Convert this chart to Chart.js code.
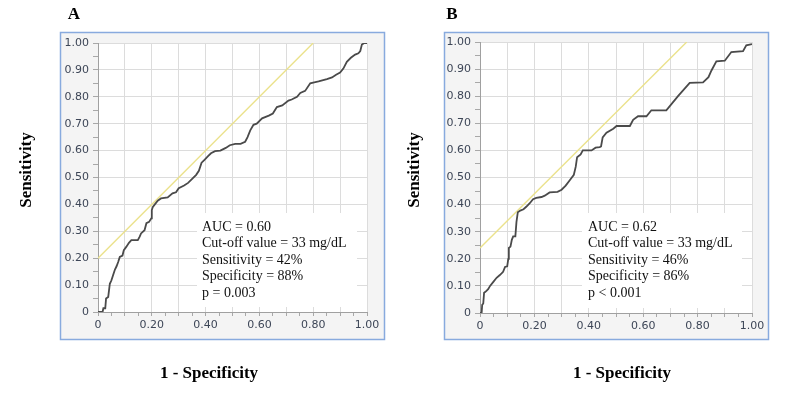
<!DOCTYPE html>
<html>
<head>
<meta charset="utf-8">
<script src="https://cdn.jsdelivr.net/npm/chart.js@4/dist/chart.umd.min.js"></script>
<style>
  html, body { margin: 0; padding: 0; background: #ffffff; }
  #wrap { position: relative; width: 800px; height: 403px; overflow: hidden; }
  .panel { position: absolute; top: 0; width: 400px; height: 403px; }
</style>
</head>
<body>
<div id="wrap">
  <div class="panel" style="left:0px"><canvas id="cA" width="400" height="403"></canvas></div>
  <div class="panel" style="left:400px"><canvas id="cB" width="400" height="403"></canvas></div>
</div>
<script>
// ---------------- DATA ----------------
const fprA = [0, 0.017, 0.02, 0.027, 0.03, 0.038, 0.044, 0.05, 0.056, 0.063, 0.069, 0.075, 0.081, 0.091, 0.096, 0.105, 0.115, 0.124, 0.148, 0.155, 0.16, 0.173, 0.18, 0.19, 0.198, 0.2, 0.204, 0.212, 0.222, 0.234, 0.259, 0.277, 0.29, 0.30, 0.32, 0.335, 0.35, 0.365, 0.375, 0.385, 0.395, 0.41, 0.42, 0.435, 0.455, 0.475, 0.49, 0.51, 0.53, 0.547, 0.556, 0.566, 0.578, 0.59, 0.61, 0.635, 0.65, 0.665, 0.685, 0.708, 0.72, 0.74, 0.752, 0.77, 0.789, 0.80, 0.82, 0.851, 0.87, 0.885, 0.90, 0.912, 0.925, 0.94, 0.956, 0.968, 0.975, 0.981, 0.99, 1.0];
const tprA = [0, 0, 0.014, 0.014, 0.05, 0.056, 0.105, 0.118, 0.137, 0.158, 0.17, 0.186, 0.205, 0.21, 0.23, 0.242, 0.257, 0.267, 0.267, 0.28, 0.292, 0.304, 0.33, 0.335, 0.348, 0.379, 0.391, 0.401, 0.414, 0.422, 0.426, 0.441, 0.445, 0.46, 0.47, 0.48, 0.495, 0.51, 0.525, 0.555, 0.565, 0.58, 0.59, 0.598, 0.60, 0.61, 0.62, 0.625, 0.625, 0.633, 0.65, 0.675, 0.696, 0.70, 0.72, 0.73, 0.738, 0.762, 0.768, 0.786, 0.79, 0.80, 0.814, 0.822, 0.85, 0.853, 0.857, 0.866, 0.872, 0.882, 0.89, 0.905, 0.93, 0.945, 0.957, 0.962, 0.97, 0.994, 1.0, 1.0];

const fprB = [0, 0.006, 0.008, 0.012, 0.015, 0.02, 0.03, 0.037, 0.049, 0.061, 0.073, 0.085, 0.092, 0.1, 0.104, 0.106, 0.112, 0.117, 0.122, 0.13, 0.134, 0.139, 0.148, 0.16, 0.17, 0.183, 0.195, 0.207, 0.226, 0.238, 0.256, 0.285, 0.30, 0.315, 0.33, 0.345, 0.352, 0.357, 0.37, 0.378, 0.41, 0.425, 0.44, 0.445, 0.451, 0.465, 0.49, 0.502, 0.551, 0.563, 0.581, 0.612, 0.63, 0.685, 0.728, 0.771, 0.82, 0.84, 0.851, 0.869, 0.9, 0.924, 0.967, 0.979, 1.0];
const tprB = [0, 0, 0.03, 0.035, 0.075, 0.078, 0.088, 0.10, 0.115, 0.13, 0.14, 0.152, 0.17, 0.172, 0.20, 0.24, 0.245, 0.27, 0.283, 0.283, 0.335, 0.372, 0.378, 0.383, 0.392, 0.405, 0.42, 0.425, 0.428, 0.433, 0.445, 0.447, 0.455, 0.47, 0.49, 0.51, 0.54, 0.575, 0.585, 0.60, 0.60, 0.61, 0.612, 0.615, 0.648, 0.665, 0.68, 0.69, 0.69, 0.713, 0.726, 0.726, 0.748, 0.748, 0.80, 0.849, 0.851, 0.87, 0.895, 0.929, 0.931, 0.963, 0.966, 0.988, 0.992];

const refAx = [0, 0.80];
const refAy = [0.20, 1.00];
const refBx = [0, 0.76];
const refBy = [0.24, 1.00];

const yTickLabels = ['0', '0.10', '0.20', '0.30', '0.40', '0.50', '0.60', '0.70', '0.80', '0.90', '1.00'];
const xTickLabels = ['0', '0.20', '0.40', '0.60', '0.80', '1.00'];

const panelLabels = ['A', 'B'];
const yTitle = 'Sensitivity';
const xTitle = '1 - Specificity';
const notesA = ['AUC = 0.60', 'Cut-off value = 33 mg/dL', 'Sensitivity = 42%', 'Specificity = 88%', 'p = 0.003'];
const notesB = ['AUC = 0.62', 'Cut-off value = 33 mg/dL', 'Sensitivity = 46%', 'Specificity = 86%', 'p < 0.001'];

// ---------------- HELPERS ----------------
function pts(xs, ys) { return xs.map((x, i) => ({ x: x, y: ys[i] })); }

const decorPlugin = {
  id: 'decor',
  beforeDraw(chart, args, o) {
    const ctx = chart.ctx, a = chart.chartArea;
    ctx.save();
    const fx = a.left - o.frame[0], fy = a.top - o.frame[1];
    const fw = (a.right + o.frame[2]) - fx, fh = (a.bottom + o.frame[3]) - fy;
    ctx.fillStyle = '#f4f4f4';
    ctx.fillRect(fx, fy, fw, fh);
    ctx.strokeStyle = '#88aade';
    ctx.lineWidth = 1.5;
    ctx.strokeRect(fx + 0.5, fy + 0.5, fw - 1, fh - 1);
    ctx.fillStyle = '#ffffff';
    ctx.fillRect(a.left, a.top, a.right - a.left, a.bottom - a.top);
    ctx.restore();
  },
  beforeDatasetsDraw(chart, args, o) {
    const ctx = chart.ctx, a = chart.chartArea;
    ctx.save();
    ctx.fillStyle = '#ffffff';
    ctx.fillRect(a.left + o.box[0], o.box[1], (a.right - o.box[2]) - (a.left + o.box[0]), (a.bottom - o.box[3]) - o.box[1]);
    ctx.restore();
  },
  afterDraw(chart, args, o) {
    const ctx = chart.ctx, a = chart.chartArea;
    ctx.save();
    ctx.fillStyle = '#000000';
    ctx.textBaseline = 'middle';
    ctx.textAlign = 'center';
    ctx.font = 'bold 17px "Liberation Serif", "Times New Roman", serif';
    ctx.fillText(o.label, a.left + o.labelPos[0], o.labelPos[1]);
    ctx.fillText(xTitle, a.left + o.xTitlePos[0], o.xTitlePos[1]);
    ctx.translate(a.left + o.yTitlePos[0], o.yTitlePos[1]);
    ctx.rotate(-Math.PI / 2);
    ctx.fillText(yTitle, 0, 0);
    ctx.restore();

    ctx.save();
    ctx.fillStyle = '#111111';
    ctx.textBaseline = 'middle';
    ctx.textAlign = 'left';
    ctx.font = '14px "Liberation Serif", "Times New Roman", serif';
    o.notes.forEach((t, i) => {
      ctx.fillText(t, a.left + o.notePos[0], a.bottom - o.notePos[1] + i * 16.6);
    });
    ctx.restore();
  }
};

function makePanel(id, fpr, tpr, rx, ry, opts) {
  const tickFont = { family: '"DejaVu Sans", Verdana, sans-serif', size: 11 };
  const tickColor = '#3d4657';
  return new Chart(document.getElementById(id), {
    type: 'scatter',
    data: {
      datasets: [
        {
          data: pts(rx, ry),
          showLine: true,
          borderColor: '#ebe28c',
          borderWidth: 1.4,
          pointRadius: 0,
          fill: false,
          order: 2
        },
        {
          data: pts(fpr, tpr),
          showLine: true,
          borderColor: '#4a4a4a',
          borderWidth: 1.8,
          pointRadius: 0,
          tension: 0,
          fill: false,
          order: 1
        }
      ]
    },
    options: {
      responsive: false,
      animation: false,
      devicePixelRatio: 1,
      layout: { padding: { top: opts.padTop, right: opts.padRight, left: 0, bottom: 0 } },
      plugins: {
        legend: { display: false },
        tooltip: { enabled: false },
        decor: opts.decor
      },
      scales: {
        x: {
          type: 'linear', min: 0, max: 1,
          afterFit(s) { s.height = opts.xAxisH; },
          afterBuildTicks(s) { s.ticks = Array.from({ length: 21 }, (_, i) => ({ value: i / 20 })); },
          ticks: {
            autoSkip: false, maxRotation: 0, padding: 3,
            font: tickFont, color: tickColor,
            callback: (v, i) => (i % 4 === 0 ? xTickLabels[i / 4] : '')
          },
          grid: {
            color: (c) => (c.index % 2 === 0 ? '#dcdcdc' : 'rgba(0,0,0,0)'),
            tickColor: '#a8a8a8',
            tickLength: 4,
            lineWidth: 1
          },
          border: { display: true, color: '#a0a0a0', width: 1 }
        },
        y: {
          type: 'linear', min: 0, max: 1,
          afterFit(s) { s.width = opts.yAxisW; },
          afterBuildTicks(s) { s.ticks = Array.from({ length: 21 }, (_, i) => ({ value: i / 20 })); },
          ticks: {
            autoSkip: false, padding: 4,
            font: tickFont, color: tickColor,
            callback: (v, i) => (i % 2 === 0 ? yTickLabels[i / 2] : '')
          },
          grid: {
            color: (c) => (c.index % 2 === 0 ? '#dcdcdc' : 'rgba(0,0,0,0)'),
            tickColor: '#a8a8a8',
            tickLength: 5,
            lineWidth: 1
          },
          border: { display: true, color: '#a0a0a0', width: 1 }
        }
      }
    },
    plugins: [decorPlugin]
  });
}

makePanel('cA', fprA, tprA, refAx, refAy, {
  padTop: 43, padRight: 33, yAxisW: 98, xAxisH: 91,
  decor: {
    label: panelLabels[0], notes: notesA,
    frame: [38, 11, 18, 28],
    box: [99, 213, 10, 5],
    labelPos: [-24, 15],
    xTitlePos: [111, 374],
    yTitlePos: [-71, 170],
    notePos: [104, 85]
  }
});

makePanel('cB', fprB, tprB, refBx, refBy, {
  padTop: 42, padRight: 48, yAxisW: 80, xAxisH: 90,
  decor: {
    label: panelLabels[1], notes: notesB,
    frame: [36, 10, 17, 27],
    box: [102, 213, 10, 5],
    labelPos: [-28, 15],
    xTitlePos: [142, 374],
    yTitlePos: [-65, 170],
    notePos: [108, 86]
  }
});
</script>
</body>
</html>
